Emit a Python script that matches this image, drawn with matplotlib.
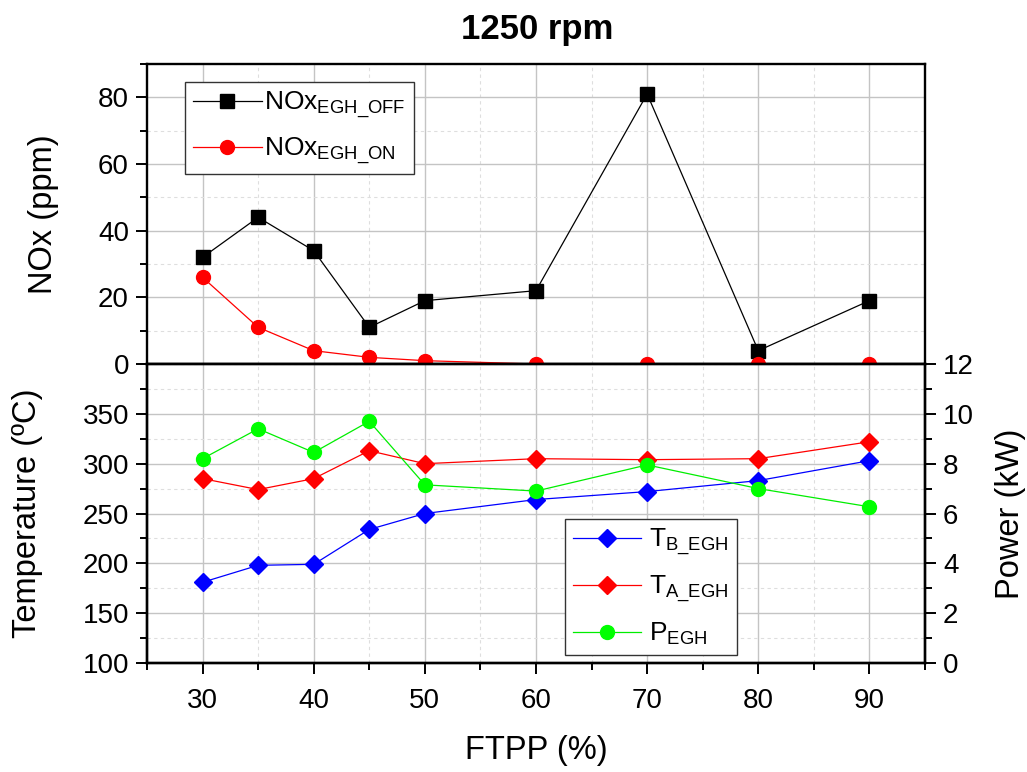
import matplotlib
matplotlib.use("Agg")
import matplotlib.pyplot as plt
from matplotlib.ticker import MultipleLocator

plt.rcParams['font.family'] = ['Liberation Sans', 'DejaVu Sans']
plt.rcParams['mathtext.fontset'] = 'custom'
plt.rcParams['mathtext.rm'] = 'Liberation Sans'
plt.rcParams['mathtext.it'] = 'Liberation Sans'
plt.rcParams['mathtext.bf'] = 'Liberation Sans:bold'

# ---- data ----
ftpp = [30, 35, 40, 45, 50, 60, 70, 80, 90]
nox_egh_off = [32, 44, 34, 11, 19, 22, 81, 4, 19]
nox_egh_on = [26, 11, 4, 2, 1, 0, 0, 0, 0]
t_b_egh = [181, 198, 199, 234, 250, 264, 272, 283, 303]
t_a_egh = [285, 274, 285, 313, 300, 305, 304, 305, 322]
p_egh = [8.2, 9.4, 8.45, 9.7, 7.15, 6.9, 7.95, 7.0, 6.27]

title = "1250 rpm"
xlabel = "FTPP (%)"
ylabel_top = "NOx (ppm)"
ylabel_bot = "Temperature (ºC)"
ylabel_right = "Power (kW)"
labels_top = [r"NOx$_{\mathrm{EGH\_OFF}}$", r"NOx$_{\mathrm{EGH\_ON}}$"]
labels_bot = [r"T$_{\mathrm{B\_EGH}}$", r"T$_{\mathrm{A\_EGH}}$", r"P$_{\mathrm{EGH}}$"]

W, H = 1027, 772
fig = plt.figure(figsize=(W / 100, H / 100), dpi=100)

L, R = 147 / W, 925 / W
AW = (925 - 147)
ax1 = fig.add_axes([L, 1 - 364 / H, R - L, (364 - 64) / H])
ax2 = fig.add_axes([L, 1 - 663 / H, R - L, (663 - 364) / H], sharex=ax1)
ax3 = ax2.twinx()

TICK_FS = 20
LABEL_FS = 23.5
LEG_FS = 19

def style_ticks(ax):
    for s in ax.spines.values():
        s.set_linewidth(1.7)
    ax.tick_params(which='major', direction='out', length=8, width=1.4, labelsize=TICK_FS, pad=5)
    ax.tick_params(which='minor', direction='out', length=5, width=1.4)

def style_grid(ax):
    ax.grid(which='major', color='#c4c4c4', linewidth=1.0, linestyle='-')
    ax.grid(which='minor', color='#dedede', linewidth=0.8, linestyle=(0, (3, 3)))
    ax.set_axisbelow(True)

# ---- top panel ----
ax1.plot(ftpp, nox_egh_off, color='black', lw=0.9, marker='s', ms=9.5, mfc='black', mec='black',
         label=labels_top[0], zorder=3)
ax1.plot(ftpp, nox_egh_on, color='red', lw=0.9, marker='o', ms=10, mfc='red', mec='red',
         label=labels_top[1], zorder=3)
ax1.set_xlim(25, 95)
ax1.set_ylim(0, 90)
ax1.xaxis.set_major_locator(MultipleLocator(10))
ax1.xaxis.set_minor_locator(MultipleLocator(5))
ax1.yaxis.set_major_locator(MultipleLocator(20))
ax1.yaxis.set_minor_locator(MultipleLocator(10))
ax1.set_yticks([0, 20, 40, 60, 80])
style_ticks(ax1)
style_grid(ax1)
ax1.tick_params(axis='x', which='both', labelbottom=False)
ax1.set_ylabel(ylabel_top, fontsize=LABEL_FS)
ax1.yaxis.set_label_coords((44 - 147) / AW, 0.5)
ax1.yaxis.label.set_verticalalignment('center')
fig.text(537 / W, 1 - 30 / H, title, fontsize=25, fontweight='bold', ha='center', va='center')
leg1 = ax1.legend(loc='upper left', bbox_to_anchor=(0.049, 0.94), fontsize=LEG_FS,
                  frameon=True, fancybox=False, edgecolor='#333333', framealpha=1,
                  handlelength=2.6, borderpad=0.3, labelspacing=0.55, handletextpad=0.1,
                  borderaxespad=0)
leg1.get_frame().set_linewidth(1.0)

# ---- bottom panel ----
l1, = ax2.plot(ftpp, t_b_egh, color='blue', lw=0.9, marker='D', ms=9, mfc='blue', mec='blue',
               label=labels_bot[0], zorder=3)
l2, = ax2.plot(ftpp, t_a_egh, color='red', lw=0.9, marker='D', ms=9, mfc='red', mec='red',
               label=labels_bot[1], zorder=3)
l3, = ax3.plot(ftpp, p_egh, color='#00ee00', lw=0.9, marker='o', ms=10, mfc='#00ff00', mec='#00ff00',
               label=labels_bot[2], zorder=3)
ax2.set_ylim(100, 400)
ax2.yaxis.set_minor_locator(MultipleLocator(25))
ax2.set_yticks([100, 150, 200, 250, 300, 350])
ax3.set_ylim(0, 12)
ax3.yaxis.set_major_locator(MultipleLocator(2))
ax3.yaxis.set_minor_locator(MultipleLocator(1))
style_ticks(ax2)
style_grid(ax2)
style_ticks(ax3)
ax2.tick_params(axis='x', pad=10)
ax2.set_ylabel(ylabel_bot, fontsize=LABEL_FS)
ax2.yaxis.set_label_coords((28 - 147) / AW, 0.5)
ax2.yaxis.label.set_verticalalignment('center')
ax3.set_ylabel(ylabel_right, fontsize=LABEL_FS)
ax3.yaxis.set_label_coords((1010 - 147) / AW, 0.5)
ax3.yaxis.label.set_verticalalignment('center')
ax2.set_xlabel(xlabel, fontsize=LABEL_FS)
ax2.xaxis.set_label_coords(0.5, -(750 - 663) / (663 - 364))
ax2.xaxis.label.set_verticalalignment('center')

leg2 = ax3.legend(handles=[l1, l2, l3], loc='lower left', bbox_to_anchor=(0.537, 0.027),
                  fontsize=LEG_FS, frameon=True, fancybox=False, edgecolor='#333333', framealpha=1,
                  handlelength=2.6, borderpad=0.3, labelspacing=0.6, handletextpad=0.3,
                  borderaxespad=0)
leg2.get_frame().set_linewidth(1.0)

fig.savefig("out.png", dpi=100)
